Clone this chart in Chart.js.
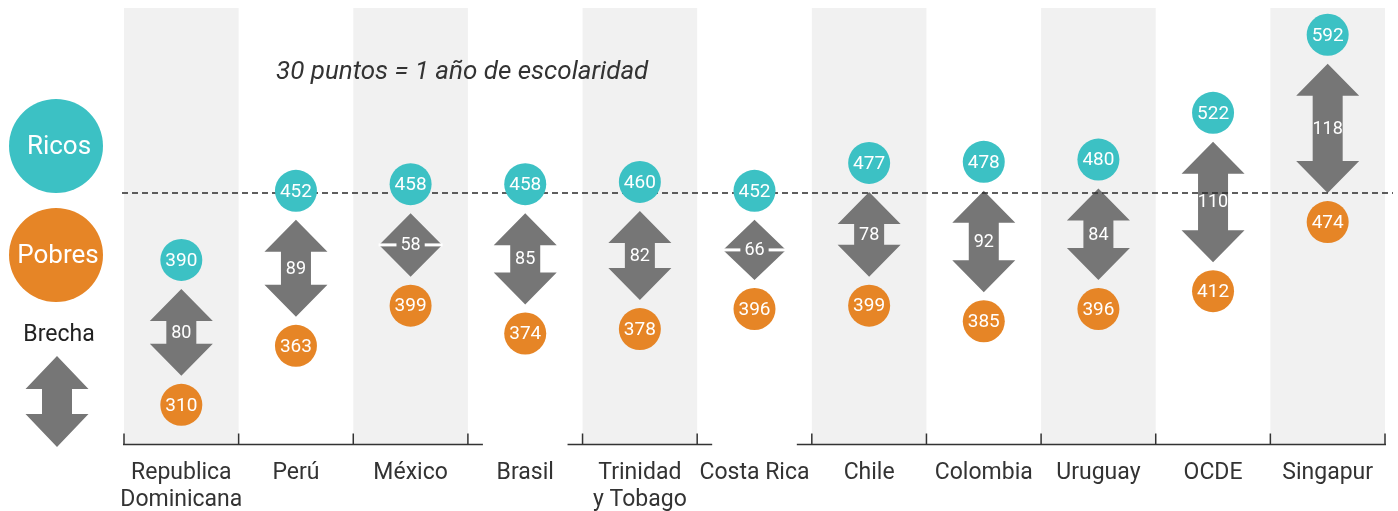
<!DOCTYPE html>
<html lang="es">
<head>
<meta charset="utf-8">
<title>Brecha entre ricos y pobres</title>
<script src="https://cdn.jsdelivr.net/npm/chart.js@4/dist/chart.umd.min.js"></script>
<style>
  html, body { margin: 0; padding: 0; background: #fff; }
  #wrap { width: 1398px; height: 511px; }
</style>
</head>
<body>
<div id="wrap"><canvas id="grafico" width="1398" height="511"></canvas></div>
<script>
// ----- Datos -----
const paises = [
  ["Republica", "Dominicana"], ["Perú"], ["México"], ["Brasil"],
  ["Trinidad", "y Tobago"], ["Costa Rica"], ["Chile"], ["Colombia"],
  ["Uruguay"], ["OCDE"], ["Singapur"]
];
const ricos = [390, 452, 458, 458, 460, 452, 477, 478, 480, 522, 592];
const pobres = [310, 363, 399, 374, 378, 396, 399, 385, 396, 412, 474];
const brecha = [80, 89, 58, 85, 82, 66, 78, 92, 84, 110, 118];
const lineaReferencia = 450;
const nota = "30 puntos = 1 año de escolaridad";

// escala de puntajes; la de pobres va corrida para dejar sitio a la flecha
const escalaMin = 224, escalaMax = 616, corrimiento = 50;

// ----- Estilo -----
const TEAL = "#3cc1c4";
const NARANJA = "#e68526";
const GRIS = "#767676";
const FONDO = "#f1f1f1";
const TEXTO = "#333333";
const FUENTE = "Roboto, 'Open Sans', sans-serif";
const RADIO = 21;
// categorías sin línea de eje debajo
const huecosEje = [3, 5];

function flecha(ctx, cx, y1, y2, anchoCabeza, anchoAsta, altoCabeza) {
  const h = Math.min(altoCabeza, (y2 - y1) / 2);
  const hw = anchoCabeza / 2, sw = anchoAsta / 2;
  ctx.beginPath();
  ctx.moveTo(cx, y1);
  ctx.lineTo(cx + hw, y1 + h);
  ctx.lineTo(cx + sw, y1 + h);
  ctx.lineTo(cx + sw, y2 - h);
  ctx.lineTo(cx + hw, y2 - h);
  ctx.lineTo(cx, y2);
  ctx.lineTo(cx - hw, y2 - h);
  ctx.lineTo(cx - sw, y2 - h);
  ctx.lineTo(cx - sw, y1 + h);
  ctx.lineTo(cx - hw, y1 + h);
  ctx.closePath();
  ctx.fill();
}

// ----- Plugin: fondos, flechas, eje, textos -----
const dibujo = {
  id: "dibujo",
  beforeDatasetsDraw(chart) {
    const { ctx, chartArea: a, scales } = chart;
    const x = scales.x, yR = scales.yRicos, yP = scales.yPobres;
    const ancho = (a.right - a.left) / paises.length;
    ctx.save();
    // bandas grises
    ctx.fillStyle = FONDO;
    paises.forEach((p, i) => {
      if (i % 2 === 0) ctx.fillRect(x.getPixelForValue(i) - ancho / 2, a.top, ancho, a.bottom - a.top);
    });
    // flechas de brecha
    ctx.fillStyle = GRIS;
    brecha.forEach((b, i) => {
      const cx = x.getPixelForValue(i);
      const y1 = yR.getPixelForValue(ricos[i]) + RADIO + 8;
      const y2 = yP.getPixelForValue(pobres[i]) - RADIO - 8;
      flecha(ctx, cx, y1, y2, 63, 30, 32);
    });
    ctx.font = "18px " + FUENTE;
    ctx.textAlign = "center";
    ctx.textBaseline = "middle";
    brecha.forEach((b, i) => {
      const cx = x.getPixelForValue(i);
      const y1 = yR.getPixelForValue(ricos[i]) + RADIO + 8;
      const y2 = yP.getPixelForValue(pobres[i]) - RADIO - 8;
      const cy = (y1 + y2) / 2;
      if (y2 - y1 < 72) {
        const w = ctx.measureText(String(b)).width / 2 + 4;
        ctx.fillStyle = "#ffffff";
        ctx.fillRect(cx - 32, cy - 1.5, 32 - w, 3);
        ctx.fillRect(cx + w, cy - 1.5, 32 - w, 3);
      }
      ctx.fillStyle = "#ffffff";
      ctx.fillText(String(b), cx, cy + 1);
    });
    // línea de referencia punteada
    const yRef = yR.getPixelForValue(lineaReferencia);
    ctx.strokeStyle = "#2a2a2a";
    ctx.lineWidth = 1.5;
    ctx.setLineDash([6, 4]);
    ctx.beginPath();
    ctx.moveTo(a.left - 2, yRef);
    ctx.lineTo(a.right + 8, yRef);
    ctx.stroke();
    ctx.setLineDash([]);
    ctx.restore();
  },
  afterDatasetsDraw(chart) {
    const { ctx, chartArea: a, scales } = chart;
    const x = scales.x, yR = scales.yRicos, yP = scales.yPobres;
    const ancho = (a.right - a.left) / paises.length;
    ctx.save();
    // valores dentro de los círculos
    ctx.fillStyle = "#ffffff";
    ctx.font = "19px " + FUENTE;
    ctx.textAlign = "center";
    ctx.textBaseline = "middle";
    paises.forEach((p, i) => {
      const cx = x.getPixelForValue(i);
      ctx.fillText(String(ricos[i]), cx, yR.getPixelForValue(ricos[i]) + 1);
      ctx.fillText(String(pobres[i]), cx, yP.getPixelForValue(pobres[i]) + 1);
    });
    // eje inferior con marcas
    const yEje = a.bottom - 0.5;
    ctx.strokeStyle = TEXTO;
    ctx.lineWidth = 1.5;
    ctx.beginPath();
    let inicio = a.left - 1;
    huecosEje.forEach((k) => {
      const izq = x.getPixelForValue(k) - ancho / 2;
      ctx.moveTo(inicio, yEje);
      ctx.lineTo(izq + 15, yEje);
      inicio = izq + ancho - 15;
    });
    ctx.moveTo(inicio, yEje);
    ctx.lineTo(a.right + 1, yEje);
    for (let i = 0; i <= paises.length; i++) {
      const bx = a.left + i * ancho;
      ctx.moveTo(bx, yEje);
      ctx.lineTo(bx, yEje - 11);
    }
    ctx.stroke();
    // etiquetas de países
    ctx.fillStyle = TEXTO;
    ctx.font = "23px " + FUENTE;
    ctx.textBaseline = "alphabetic";
    paises.forEach((lineas, i) => {
      const cx = x.getPixelForValue(i);
      lineas.forEach((t, j) => ctx.fillText(t, cx, 479 + j * 27));
    });
    // nota en cursiva
    ctx.font = "italic 26px " + FUENTE;
    ctx.textAlign = "left";
    ctx.textBaseline = "middle";
    ctx.fillText(nota, 276, 72);
    // leyenda
    ctx.textAlign = "center";
    ctx.fillStyle = TEAL;
    ctx.beginPath(); ctx.arc(56, 146, 47, 0, Math.PI * 2); ctx.fill();
    ctx.fillStyle = NARANJA;
    ctx.beginPath(); ctx.arc(56, 255, 47, 0, Math.PI * 2); ctx.fill();
    ctx.fillStyle = "#ffffff";
    ctx.font = "26px " + FUENTE;
    ctx.fillText("Ricos", 59, 147);
    ctx.fillText("Pobres", 58, 256);
    ctx.fillStyle = "#222222";
    ctx.font = "23px " + FUENTE;
    ctx.fillText("Brecha", 59, 335);
    ctx.fillStyle = GRIS;
    flecha(ctx, 57, 356, 447, 63, 30, 33);
    ctx.restore();
  }
};

// ----- Gráfico -----
new Chart(document.getElementById("grafico"), {
  type: "line",
  data: {
    labels: paises.map((l) => l.join(" ")),
    datasets: [
      {
        label: "Ricos",
        data: ricos,
        yAxisID: "yRicos",
        showLine: false,
        pointRadius: RADIO,
        pointHoverRadius: RADIO,
        pointBorderWidth: 0,
        pointBackgroundColor: TEAL,
        pointBorderColor: TEAL
      },
      {
        label: "Pobres",
        data: pobres,
        yAxisID: "yPobres",
        showLine: false,
        pointRadius: RADIO,
        pointHoverRadius: RADIO,
        pointBorderWidth: 0,
        pointBackgroundColor: NARANJA,
        pointBorderColor: NARANJA
      }
    ]
  },
  options: {
    responsive: false,
    animation: false,
    events: [],
    layout: { autoPadding: false, padding: { left: 124, right: 13, top: 8, bottom: 66 } },
    plugins: { legend: { display: false }, tooltip: { enabled: false } },
    scales: {
      x: { display: false, offset: true },
      yRicos: { display: false, min: escalaMin, max: escalaMax },
      yPobres: { display: false, min: escalaMin + corrimiento, max: escalaMax + corrimiento }
    }
  },
  plugins: [dibujo]
});
</script>
</body>
</html>
